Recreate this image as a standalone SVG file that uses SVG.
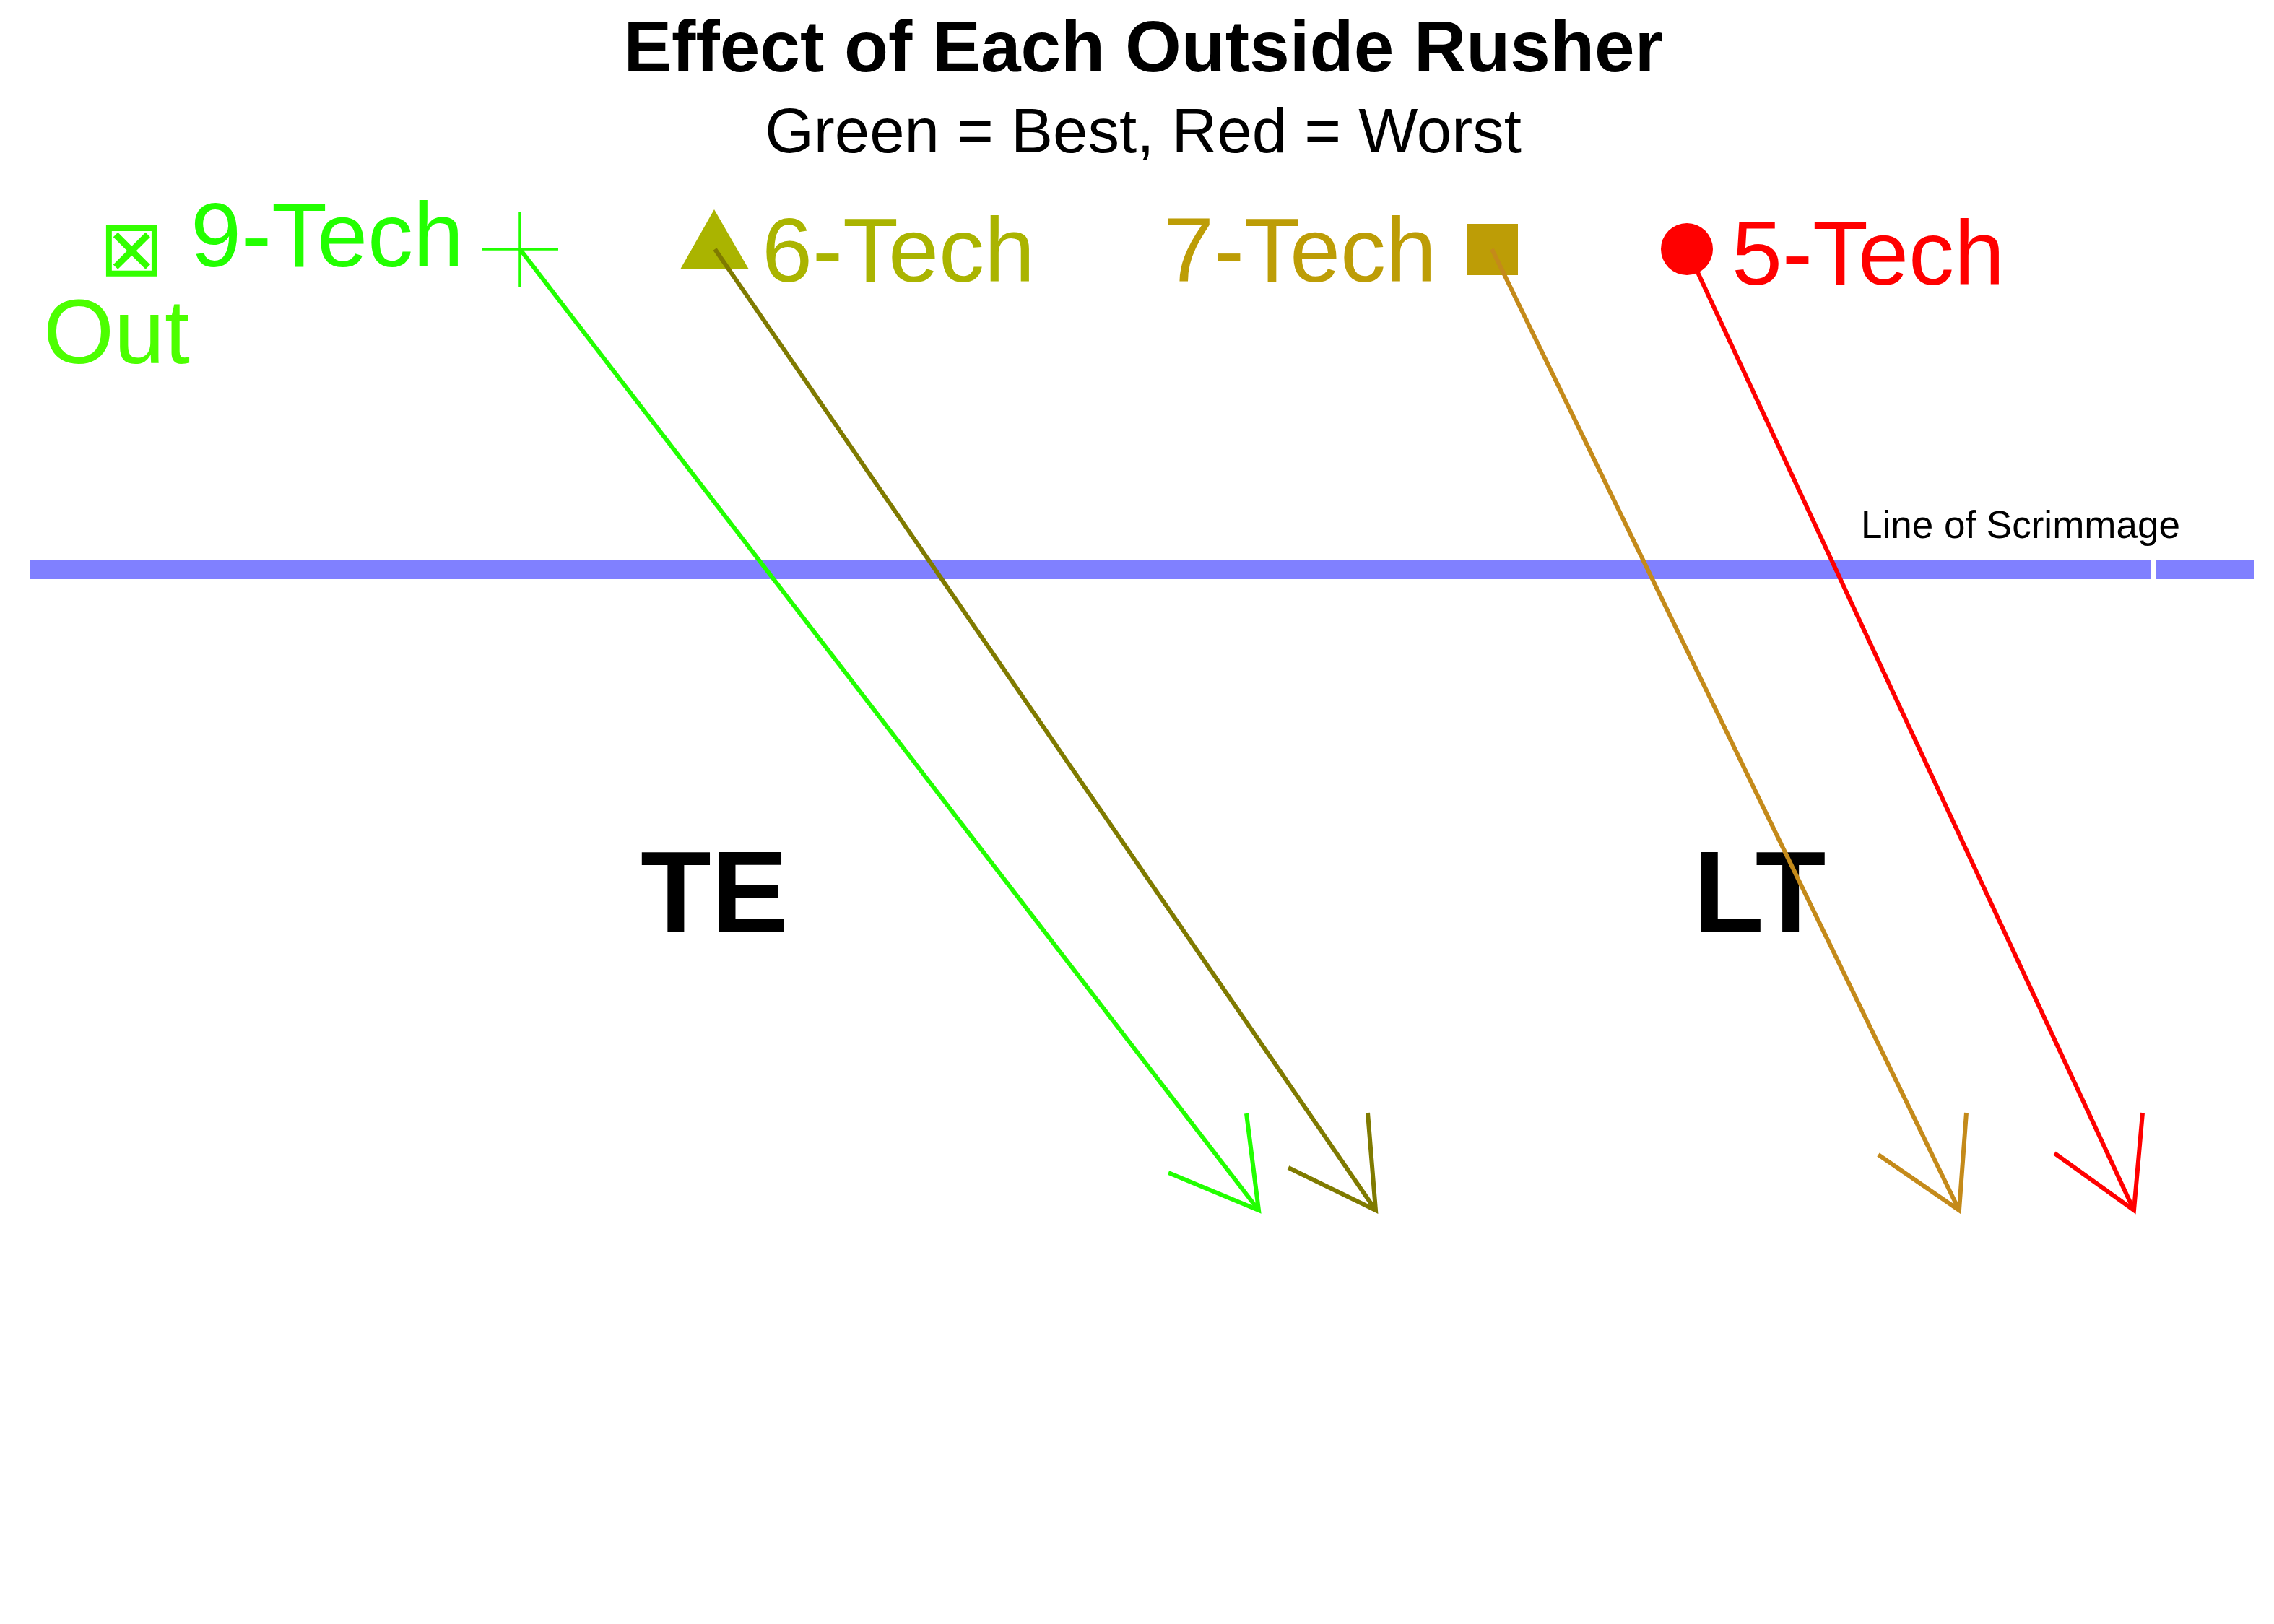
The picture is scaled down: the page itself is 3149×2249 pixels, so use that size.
<svg xmlns="http://www.w3.org/2000/svg" width="3149" height="2249" viewBox="0 0 3149 2249">
<style>
text{font-family:"Liberation Sans",Arial,sans-serif}
.lbl{font-size:126px}
.shaft{fill:none;stroke-width:6;stroke-linecap:butt;stroke-linejoin:miter}
</style>
<rect x="0" y="0" width="3149" height="2249" fill="#ffffff"/>
<g id="title">
<text x="1583" y="99" font-size="100" font-weight="bold" text-anchor="middle" fill="#000">Effect of Each Outside Rusher</text>
<text x="1583" y="211" font-size="87" text-anchor="middle" fill="#000">Green = Best, Red = Worst</text>
</g>
<g id="line-of-scrimmage">
<rect x="42" y="775" width="2937" height="27" fill="#8080ff"/>
<rect x="2985" y="775" width="136" height="27" fill="#8080ff"/>
<text x="2577" y="745" font-size="53" fill="#000">Line of Scrimmage</text>
</g>
<g id="TE"><text x="887" y="1290" font-size="160" font-weight="bold" fill="#000">TE</text></g>
<g id="LT"><text x="2345" y="1290" font-size="160" font-weight="bold" fill="#000">LT</text></g>
<g id="node-9tech">
<text class="lbl" fill="#22ff00"><tspan x="137" y="381" font-size="108" fill="#33ff00" style="font-family:'DejaVu Sans',sans-serif">⊠</tspan><tspan x="264" y="369">9-Tech</tspan><tspan x="60" y="503" fill="#4cff00">Out</tspan></text>
<g stroke="#22ff00" stroke-width="3.5"><line x1="668" y1="345" x2="773" y2="345"/><line x1="720" y1="293" x2="720" y2="397"/></g>
</g>
<g id="node-6tech">
<polygon points="989,290 1037,373 942,373" fill="#aab400"/>
<text class="lbl" x="1055" y="390" fill="#aab400">6-Tech</text>
</g>
<g id="node-7tech">
<rect x="2031" y="310" width="71" height="71" fill="#bd9d06"/>
<text class="lbl" x="1611" y="390" fill="#bd9d06">7-Tech</text>
</g>
<g id="node-5tech">
<circle cx="2336" cy="345" r="36" fill="#ff0000"/>
<text class="lbl" x="2398" y="394" fill="#ff0000">5-Tech</text>
</g>
<g id="connectors">
<g stroke="#22ff00" class="shaft"><line x1="720" y1="345" x2="1743" y2="1676"/><polyline points="1726,1542 1743,1676 1618,1624"/></g>
<g stroke="#7f7a00" class="shaft"><line x1="990" y1="345" x2="1905" y2="1676"/><polyline points="1894,1541 1905,1676 1784,1617"/></g>
<g stroke="#c48a1a" class="shaft"><line x1="2066" y1="345" x2="2713" y2="1676"/><polyline points="2723,1541 2713,1676 2601,1599"/></g>
<g stroke="#ff0000" class="shaft"><line x1="2336" y1="345" x2="2955" y2="1676"/><polyline points="2967,1541 2955,1676 2845,1597"/></g>
</g>
</svg>
